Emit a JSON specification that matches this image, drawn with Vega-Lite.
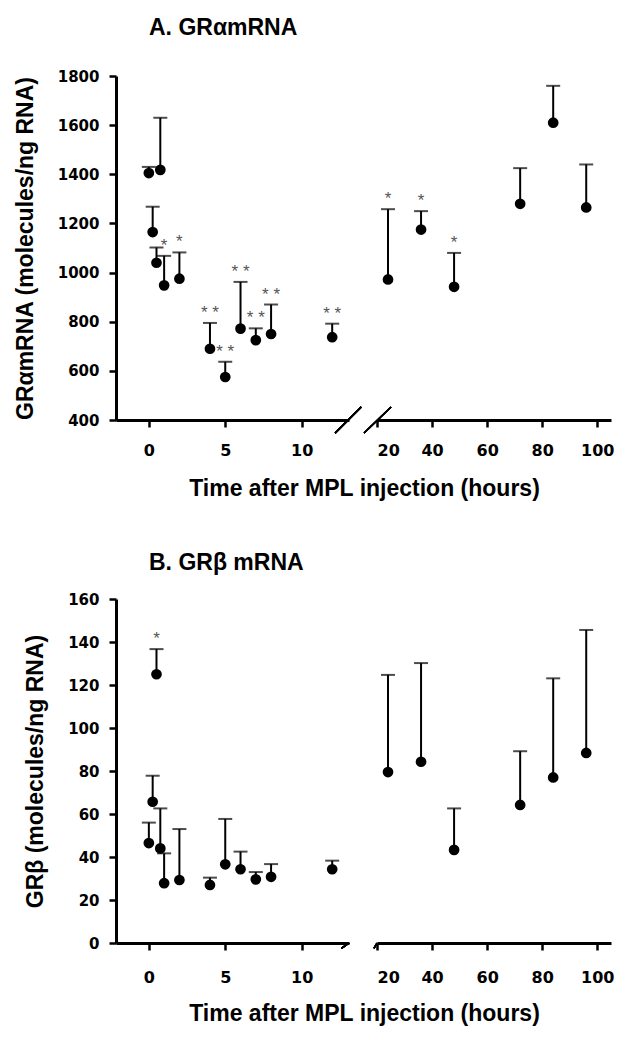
{
  "$schema": "https://vega.github.io/schema/vega-lite/v6.json",
  "background": "white",
  "padding": {"left": 14, "top": 17, "right": 5, "bottom": 5},
  "config": {
    "view": {"stroke": null},
    "axis": {
      "grid": false,
      "domainColor": "black", "domainWidth": 3,
      "tickColor": "black", "tickWidth": 2.5, "tickSize": 7,
      "labelFont": "DejaVu Sans", "labelFontWeight": "bold", "labelFontSize": 15, "labelColor": "black",
      "titleFont": "Liberation Sans", "titleFontWeight": "bold", "titleFontSize": 23, "titleColor": "black"
    },
    "axisX": {"labelFontSize": 16},
    "axisY": {"labelPadding": 10, "titlePadding": 20, "format": "d"},
    "title": {"font": "Liberation Sans", "fontWeight": "bold", "fontSize": 23, "color": "black"}
  },
  "datasets": {
    "alpha": [
      {"t": 0, "mean": 1405, "upper": 1430, "sig": "", "seg": "early"},
      {"t": 0.25, "mean": 1165, "upper": 1268, "sig": "", "seg": "early"},
      {"t": 0.5, "mean": 1040, "upper": 1102, "sig": "", "seg": "early"},
      {"t": 0.75, "mean": 1418, "upper": 1630, "sig": "", "seg": "early"},
      {"t": 1, "mean": 948, "upper": 1068, "sig": "*", "seg": "early"},
      {"t": 2, "mean": 975, "upper": 1082, "sig": "*", "seg": "early"},
      {"t": 4, "mean": 690, "upper": 795, "sig": "* *", "seg": "early"},
      {"t": 5, "mean": 575, "upper": 637, "sig": "* *", "seg": "early"},
      {"t": 6, "mean": 772, "upper": 962, "sig": "* *", "seg": "early"},
      {"t": 7, "mean": 725, "upper": 773, "sig": "* *", "seg": "early"},
      {"t": 8, "mean": 750, "upper": 870, "sig": "* *", "seg": "early"},
      {"t": 12, "mean": 737, "upper": 792, "sig": "* *", "seg": "early"},
      {"t": 24, "mean": 972, "upper": 1258, "sig": "*", "seg": "late"},
      {"t": 36, "mean": 1175, "upper": 1250, "sig": "*", "seg": "late"},
      {"t": 48, "mean": 942, "upper": 1080, "sig": "*", "seg": "late"},
      {"t": 72, "mean": 1280, "upper": 1425, "sig": "", "seg": "late"},
      {"t": 84, "mean": 1610, "upper": 1760, "sig": "", "seg": "late"},
      {"t": 96, "mean": 1265, "upper": 1440, "sig": "", "seg": "late"}
    ],
    "beta": [
      {"t": 0, "mean": 46.5, "upper": 56, "sig": "", "seg": "early"},
      {"t": 0.25, "mean": 65.7, "upper": 77.8, "sig": "", "seg": "early"},
      {"t": 0.5, "mean": 125, "upper": 136.7, "sig": "*", "seg": "early"},
      {"t": 0.75, "mean": 44, "upper": 62.6, "sig": "", "seg": "early"},
      {"t": 1, "mean": 27.8, "upper": 41.7, "sig": "", "seg": "early"},
      {"t": 2, "mean": 29.3, "upper": 53, "sig": "", "seg": "early"},
      {"t": 4, "mean": 27, "upper": 30.4, "sig": "", "seg": "early"},
      {"t": 5, "mean": 36.6, "upper": 57.7, "sig": "", "seg": "early"},
      {"t": 6, "mean": 34.3, "upper": 42.5, "sig": "", "seg": "early"},
      {"t": 7, "mean": 29.6, "upper": 33, "sig": "", "seg": "early"},
      {"t": 8, "mean": 30.8, "upper": 36.7, "sig": "", "seg": "early"},
      {"t": 12, "mean": 34.3, "upper": 38.3, "sig": "", "seg": "early"},
      {"t": 24, "mean": 79.5, "upper": 124.7, "sig": "", "seg": "late"},
      {"t": 36, "mean": 84.3, "upper": 130.2, "sig": "", "seg": "late"},
      {"t": 48, "mean": 43.3, "upper": 62.6, "sig": "", "seg": "late"},
      {"t": 72, "mean": 64.2, "upper": 89.2, "sig": "", "seg": "late"},
      {"t": 84, "mean": 77, "upper": 123.1, "sig": "", "seg": "late"},
      {"t": 96, "mean": 88.4, "upper": 145.6, "sig": "", "seg": "late"}
    ]
  },
  "columns": 2,
  "spacing": {"row": 179, "column": 28},
  "bounds": "flush",
  "concat": [
    {
      "width": 233, "height": 344,
      "title": {"text": "A. GRαmRNA", "anchor": "start", "frame": "group", "dx": 33, "offset": 29},
      "data": {"name": "alpha"},
      "transform": [{"filter": "datum.seg == 'early'"}],
      "encoding": {
        "x": {"field": "t", "type": "quantitative", "scale": {"domain": [-2.15, 13.1], "nice": false, "zero": false},
              "axis": {"values": [0, 5, 10], "labelPadding": 15, "title": "Time after MPL injection (hours)", "titleX": 248, "titleAlign": "center", "titlePadding": 19}}
      },
      "layer": [
        {"mark": {"type": "rule", "strokeWidth": 2, "color": "black"},
         "encoding": {"y": {"field": "mean", "type": "quantitative", "scale": {"domain": [400, 1800], "nice": false, "zero": false},
                            "axis": {"values": [400, 600, 800, 1000, 1200, 1400, 1600, 1800], "title": "GRαmRNA (molecules/ng RNA)"}},
                      "y2": {"field": "upper"}}},
        {"mark": {"type": "tick", "orient": "horizontal", "size": 14, "thickness": 2, "color": "black"},
         "encoding": {"y": {"field": "upper", "type": "quantitative"}}},
        {"mark": {"type": "point", "filled": true, "size": 115, "color": "black", "opacity": 1},
         "encoding": {"y": {"field": "mean", "type": "quantitative"}}},
        {"mark": {"type": "text", "dy": -10, "fontSize": 17, "color": "#555", "font": "Liberation Sans"},
         "encoding": {"y": {"field": "upper", "type": "quantitative"}, "text": {"field": "sig"}}},
        {"mark": {"type": "rule", "clip": false, "strokeWidth": 1.5, "color": "black"},
         "encoding": {"x": {"datum": 12.2}, "x2": {"datum": 13.9}, "y": {"datum": 347}, "y2": {"datum": 453}}}
      ]
    },
    {
      "width": 234, "height": 344,
      "data": {"name": "alpha"},
      "transform": [{"filter": "datum.seg == 'late'"}],
      "encoding": {
        "x": {"field": "t", "type": "quantitative", "scale": {"domain": [20, 105], "nice": false, "zero": false},
              "axis": {"values": [20, 40, 60, 80, 100], "labelPadding": 15, "title": null}}
      },
      "layer": [
        {"mark": {"type": "rule", "strokeWidth": 2, "color": "black"},
         "encoding": {"y": {"field": "mean", "type": "quantitative", "scale": {"domain": [400, 1800], "nice": false, "zero": false}, "axis": null},
                      "y2": {"field": "upper"}}},
        {"mark": {"type": "tick", "orient": "horizontal", "size": 14, "thickness": 2, "color": "black"},
         "encoding": {"y": {"field": "upper", "type": "quantitative"}}},
        {"mark": {"type": "point", "filled": true, "size": 115, "color": "black", "opacity": 1},
         "encoding": {"y": {"field": "mean", "type": "quantitative"}}},
        {"mark": {"type": "text", "dy": -10, "fontSize": 17, "color": "#555", "font": "Liberation Sans"},
         "encoding": {"y": {"field": "upper", "type": "quantitative"}, "text": {"field": "sig"}}},
        {"mark": {"type": "rule", "clip": false, "strokeWidth": 1.5, "color": "black"},
         "encoding": {"x": {"datum": 15.3}, "x2": {"datum": 25.1}, "y": {"datum": 347}, "y2": {"datum": 453}}}
      ]
    },
    {
      "width": 233, "height": 344,
      "title": {"text": "B.  GRβ mRNA", "anchor": "start", "frame": "group", "dx": 33, "offset": 17},
      "data": {"name": "beta"},
      "transform": [{"filter": "datum.seg == 'early'"}],
      "encoding": {
        "x": {"field": "t", "type": "quantitative", "scale": {"domain": [-2.15, 13.1], "nice": false, "zero": false},
              "axis": {"values": [0, 5, 10], "labelPadding": 19, "title": "Time after MPL injection (hours)", "titleX": 248, "titleAlign": "center", "titlePadding": 17}}
      },
      "layer": [
        {"mark": {"type": "rule", "strokeWidth": 2, "color": "black"},
         "encoding": {"y": {"field": "mean", "type": "quantitative", "scale": {"domain": [0, 160], "nice": false},
                            "axis": {"values": [0, 20, 40, 60, 80, 100, 120, 140, 160], "title": "GRβ (molecules/ng RNA)"}},
                      "y2": {"field": "upper"}}},
        {"mark": {"type": "tick", "orient": "horizontal", "size": 14, "thickness": 2, "color": "black"},
         "encoding": {"y": {"field": "upper", "type": "quantitative"}}},
        {"mark": {"type": "point", "filled": true, "size": 115, "color": "black", "opacity": 1},
         "encoding": {"y": {"field": "mean", "type": "quantitative"}}},
        {"mark": {"type": "text", "dy": -10, "fontSize": 17, "color": "#555", "font": "Liberation Sans"},
         "encoding": {"y": {"field": "upper", "type": "quantitative"}, "text": {"field": "sig"}}},
        {"mark": {"type": "rule", "clip": false, "strokeWidth": 1.5, "color": "black"},
         "encoding": {"x": {"datum": 12.6}, "x2": {"datum": 13.1}, "y": {"datum": -2.5}, "y2": {"datum": 0}}}
      ]
    },
    {
      "width": 234, "height": 344,
      "data": {"name": "beta"},
      "transform": [{"filter": "datum.seg == 'late'"}],
      "encoding": {
        "x": {"field": "t", "type": "quantitative", "scale": {"domain": [20, 105], "nice": false, "zero": false},
              "axis": {"values": [20, 40, 60, 80, 100], "labelPadding": 19, "title": null}}
      },
      "layer": [
        {"mark": {"type": "rule", "strokeWidth": 2, "color": "black"},
         "encoding": {"y": {"field": "mean", "type": "quantitative", "scale": {"domain": [0, 160], "nice": false}, "axis": null},
                      "y2": {"field": "upper"}}},
        {"mark": {"type": "tick", "orient": "horizontal", "size": 14, "thickness": 2, "color": "black"},
         "encoding": {"y": {"field": "upper", "type": "quantitative"}}},
        {"mark": {"type": "point", "filled": true, "size": 115, "color": "black", "opacity": 1},
         "encoding": {"y": {"field": "mean", "type": "quantitative"}}},
        {"mark": {"type": "rule", "clip": false, "strokeWidth": 1.5, "color": "black"},
         "encoding": {"x": {"datum": 18.9}, "x2": {"datum": 20}, "y": {"datum": -2.5}, "y2": {"datum": 0}}}
      ]
    }
  ]
}
